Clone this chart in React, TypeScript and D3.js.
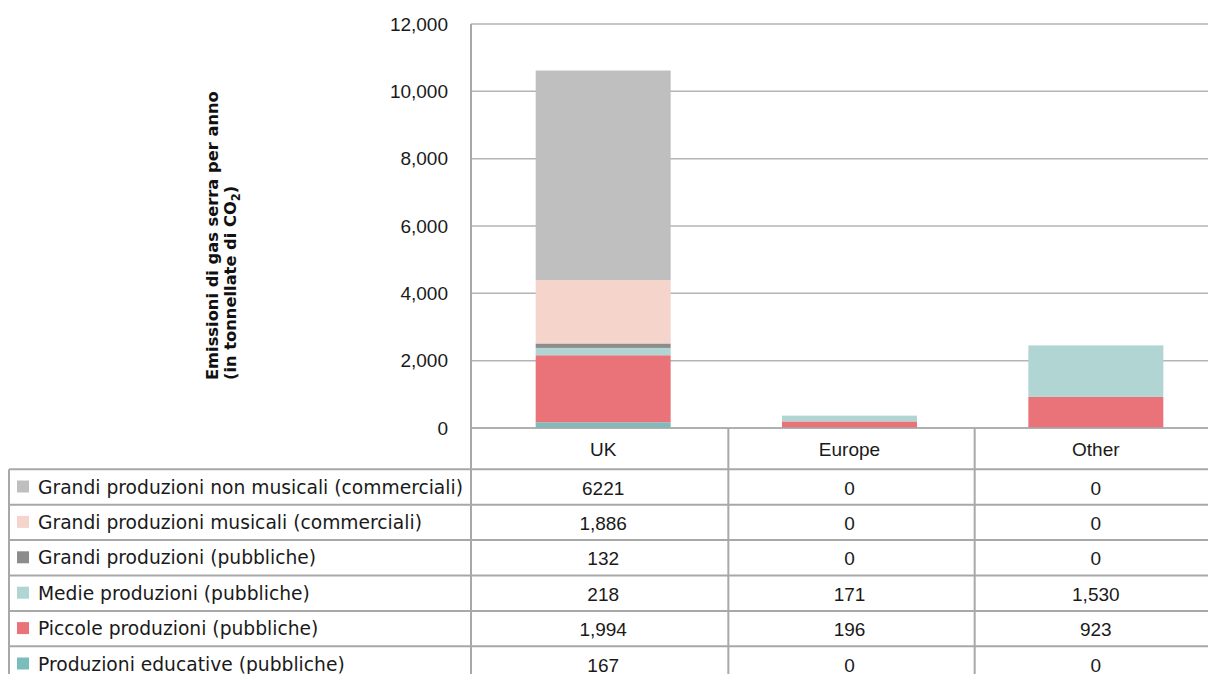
import React from "react";
import * as d3 from "d3";

const categories = ["UK", "Europe", "Other"];
const seriesNames = [
  "Grandi produzioni non musicali (commerciali)",
  "Grandi produzioni musicali (commerciali)",
  "Grandi produzioni (pubbliche)",
  "Medie produzioni (pubbliche)",
  "Piccole produzioni (pubbliche)",
  "Produzioni educative (pubbliche)",
];
const seriesColors = ["#bfbfbf", "#f5d4cc", "#8c8c8c", "#b1d5d2", "#e97378", "#7bbdbd"];
const nonMusicali = [6221, 0, 0];
const musicali = [1886, 0, 0];
const grandiPubbliche = [132, 0, 0];
const medie = [218, 171, 1530];
const piccole = [1994, 196, 923];
const educative = [167, 0, 0];
const seriesValues = [nonMusicali, musicali, grandiPubbliche, medie, piccole, educative];
const tableLabels = [
  ["6221", "0", "0"],
  ["1,886", "0", "0"],
  ["132", "0", "0"],
  ["218", "171", "1,530"],
  ["1,994", "196", "923"],
  ["167", "0", "0"],
];
const yTicks = [0, 2000, 4000, 6000, 8000, 10000, 12000];

const W = 1208;
const H = 674;

export default function App() {
  const plotLeft = 471;
  const y = d3.scaleLinear().domain([0, 12000]).range([428, 24]);
  const x = d3
    .scaleBand<string>()
    .domain(categories)
    .range([480, 1219])
    .paddingInner(0.452)
    .paddingOuter(0.226);
  const step = x.step();
  const bw = x.bandwidth();

  // stack bottom -> top: reverse of table order
  const stackOrder = d3.range(seriesNames.length).reverse();
  const rows = categories.map((c, ci) => {
    const o: any = { cat: c };
    seriesNames.forEach((s, si) => (o[s] = seriesValues[si][ci]));
    return o;
  });
  const stack = d3
    .stack<any>()
    .keys(stackOrder.map((i) => seriesNames[i]))(rows);

  const fmt = d3.format(",");
  const tableTop = 469.3;
  const rowH = 35.4;
  const gridColor = "#b4b4b4";
  const tableColor = "#a8a8a8";
  const numFont = "'Liberation Sans', Arial, sans-serif";
  const labFont = "'DejaVu Sans', Verdana, sans-serif";
  const numSize = 19;

  const colBounds = categories
    .slice(0, -1)
    .map((c) => (x(c) as number) + bw + (step - bw) / 2 + 2);

  return (
    <div style={{ position: "fixed", left: 0, top: 0, width: W, height: H, background: "#fff" }}>
      <svg width={W} height={H} style={{ display: "block" }}>
        <rect x={0} y={0} width={W} height={H} fill="#fff" />
        {/* gridlines */}
        {yTicks.map((t) => (
          <line key={"g" + t} x1={plotLeft} x2={W} y1={y(t)} y2={y(t)} stroke={gridColor} strokeWidth={1.5} />
        ))}
        {/* tick labels */}
        {yTicks.map((t) => (
          <text
            key={"t" + t}
            x={448}
            y={y(t)}
            dy="0.35em"
            textAnchor="end"
            fontFamily={numFont}
            fontSize={numSize}
            fill="#1a1a1a"
          >
            {fmt(t)}
          </text>
        ))}
        {/* bars */}
        {stack.map((layer) => {
          const si = seriesNames.indexOf(layer.key);
          return (
            <g key={layer.key} fill={seriesColors[si]}>
              {layer.map((d, ci) =>
                d[1] - d[0] > 0 ? (
                  <rect
                    key={ci}
                    x={x(categories[ci])}
                    width={bw}
                    y={y(d[1])}
                    height={y(d[0]) - y(d[1])}
                  />
                ) : null
              )}
            </g>
          );
        })}
        {/* axis/table lines */}
        <line x1={plotLeft} x2={plotLeft} y1={24} y2={H} stroke={tableColor} strokeWidth={2} />
        <line x1={plotLeft} x2={W} y1={y(0)} y2={y(0)} stroke={tableColor} strokeWidth={1.5} />
        {colBounds.map((cx, i) => (
          <line key={"cb" + i} x1={cx} x2={cx} y1={y(0)} y2={H} stroke={tableColor} strokeWidth={2} />
        ))}
        <line x1={9} x2={9} y1={tableTop} y2={H} stroke={tableColor} strokeWidth={2} />
        {d3.range(seriesNames.length + 1).map((r) => (
          <line
            key={"hr" + r}
            x1={9}
            x2={W}
            y1={tableTop + r * rowH}
            y2={tableTop + r * rowH}
            stroke={tableColor}
            strokeWidth={2}
          />
        ))}
        {/* category headers */}
        {categories.map((c) => (
          <text
            key={"c" + c}
            x={(x(c) as number) + bw / 2}
            y={(y(0) + tableTop) / 2 + 1}
            dy="0.35em"
            textAnchor="middle"
            fontFamily={numFont}
            fontSize={numSize}
            fill="#1a1a1a"
          >
            {c}
          </text>
        ))}
        {/* table rows */}
        {seriesNames.map((s, si) => {
          const cy = tableTop + si * rowH + rowH / 2;
          return (
            <g key={"row" + si}>
              <rect x={17} y={cy - 6.5} width={12} height={12} fill={seriesColors[si]} />
              <text x={38} y={cy} dy="0.35em" fontFamily={labFont} fontSize={18.7} fill="#1a1a1a">
                {s}
              </text>
              {categories.map((c, ci) => (
                <text
                  key={c}
                  x={(x(c) as number) + bw / 2}
                  y={cy + 1}
                  dy="0.35em"
                  textAnchor="middle"
                  fontFamily={numFont}
                  fontSize={numSize}
                  fill="#1a1a1a"
                >
                  {tableLabels[si][ci]}
                </text>
              ))}
            </g>
          );
        })}
        {/* y axis title */}
        <text
          transform="translate(218,380) rotate(-90)"
          fontFamily={labFont}
          fontWeight="bold"
          fontSize={16.3}
          fill="#111"
        >
          <tspan x={0} y={0}>Emissioni di gas serra per anno</tspan>
          <tspan x={0} y={18}>
            (in tonnellate di CO
            <tspan fontSize={11.5} dy={4}>2</tspan>
            <tspan dy={-4}>)</tspan>
          </tspan>
        </text>
      </svg>
    </div>
  );
}
